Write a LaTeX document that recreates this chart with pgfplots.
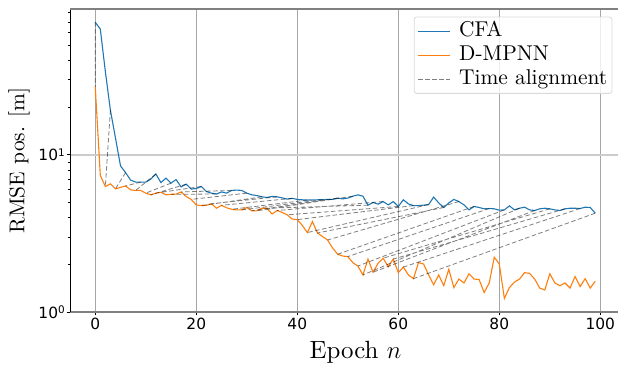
\documentclass[border=0pt]{standalone}
\usepackage{fontspec}
\setmainfont{lmroman10-regular.otf}
\usepackage{pgfplots}
\pgfplotsset{compat=1.18}
\usepackage{pgfplotstable}
\newfontfamily\dejavu{DejaVu Sans}
\definecolor{cfa}{HTML}{1F77B4}
\definecolor{dmpnn}{HTML}{FF7F0E}
\newcommand{\tp}[1]{10\raisebox{4.5bp}{\fontsize{10.5}{10.5}\selectfont #1}}

\pgfplotstableread{
n v
0 69.6
1 63
2 33.8
3 19.2
4 12.8
5 8.5
6 7.7
7 6.9
8 6.7
9 6.7
10 6.7
11 7.0
12 7.55
13 6.65
14 7.1
15 6.6
16 6.95
17 6.25
18 6.5
19 6.05
20 6.1
21 6.28
22 5.84
23 5.7
24 5.63
25 5.8
26 5.7
27 5.93
28 5.96
29 5.93
30 5.7
31 5.56
32 5.5
33 5.4
34 5.35
35 5.43
36 5.4
37 5.32
38 5.22
39 5.28
40 5.2
41 5.17
42 5.15
43 5.16
44 5.17
45 5.18
46 5.2
47 5.2
48 5.3
49 5.24
50 5.3
51 5.45
52 5.56
53 5.45
54 4.78
55 4.97
56 4.85
57 5.04
58 4.8
59 5.04
60 4.69
61 5.17
62 4.87
63 4.75
64 4.75
65 4.78
66 4.82
67 5.38
68 4.94
69 4.62
70 4.94
71 5.2
72 5.04
73 4.8
74 4.46
75 4.69
76 4.62
77 4.53
78 4.55
79 4.53
80 4.44
81 4.46
82 4.73
83 4.46
84 4.57
85 4.64
86 4.46
87 4.42
88 4.53
89 4.57
90 4.53
91 4.46
92 4.42
93 4.53
94 4.57
95 4.57
96 4.55
97 4.64
98 4.62
99 4.25
}\cfatable

\pgfplotstableread{
n v
0 27
1 7.4
2 6.28
3 6.53
4 6.07
5 6.2
6 6.33
7 5.98
8 5.93
9 5.93
10 5.7
11 5.56
12 5.7
13 5.77
14 5.56
15 5.6
16 5.62
17 5.8
18 5.42
19 5.2
20 4.8
21 4.75
22 4.77
23 4.88
24 4.57
25 4.77
26 4.6
27 4.5
28 4.46
29 4.46
30 4.62
31 4.4
32 4.4
33 4.57
34 4.57
35 4.2
36 4.42
37 4.3
38 4.15
39 3.9
40 3.87
41 3.55
42 3.2
43 3.76
44 3.18
45 3.02
46 2.87
47 2.55
48 2.33
49 2.27
50 2.25
51 2.06
52 1.96
53 1.72
54 2.17
55 1.79
56 2.04
57 2.2
58 1.94
59 2.17
60 1.78
61 1.93
62 1.72
63 1.63
64 2.06
65 2.02
66 1.72
67 1.49
68 1.72
69 1.47
70 1.87
71 1.43
72 1.62
73 1.53
74 1.75
75 1.62
76 1.61
77 1.33
78 1.53
79 2.23
80 2.02
81 1.22
82 1.43
83 1.55
84 1.62
85 1.78
86 1.76
87 1.62
88 1.42
89 1.38
90 1.75
91 1.53
92 1.47
93 1.53
94 1.42
95 1.68
96 1.45
97 1.63
98 1.42
99 1.57
}\dmpnntable

\begin{document}
\begin{tikzpicture}
\begin{axis}[
  name=ax,
  scale only axis, width=548bp, height=303bp,
  xmin=-5, xmax=103.5, ymin=1, ymax=84.5, ymode=log,
  clip=false,
  axis x line*=bottom, axis y line*=left,
  x axis line style={-, draw=gray, line width=1.6bp},
  y axis line style={-, draw=black, line width=0.8bp},
  xtick={0,20,40,60,80,100}, xticklabels={0,20,40,60,80,100},
  ytick={1,10}, yticklabels={\tp{0},\tp{1}},
  minor ytick={2,3,4,5,6,7,8,9,20,30,40,50,60,70,80},
  tick align=outside, major tick length=3.5bp, minor tick length=2bp,
  every tick/.style={black, line width=0.6bp},
  xticklabel style={font=\dejavu\fontsize{15.5}{16}\selectfont, inner sep=2bp},
  yticklabel style={font=\dejavu\fontsize{15.5}{16}\selectfont, inner sep=1.5bp},
  xmajorgrids, ymajorgrids,
  x grid style={color=black!35, line width=0.8bp},
  y grid style={color=black!20, line width=1.6bp},
  xlabel={Epoch $n$}, ylabel={RMSE pos. [m]},
  every axis x label/.style={at={(axis description cs:0.521,-0.132)}, anchor=center, font=\fontsize{25}{25}\selectfont},
  every axis y label/.style={at={(axis description cs:-0.093,0.5)}, rotate=90, anchor=center, font=\fontsize{21.5}{21.5}\selectfont},
  legend cell align=left,
  legend image code/.code={\draw[#1, line width=1.2bp] (0bp,0bp) -- (32bp,0bp);},
  legend style={name=leg, at={(1,1)}, anchor=north east, xshift=-6bp, yshift=-8bp,
    draw=none, fill=white, fill opacity=0.8, text opacity=1, rounded corners=2.5bp,
    font=\fontsize{21.5}{23}\selectfont, inner sep=3bp, row sep=2bp,
    nodes={inner sep=1.5bp, text height=14.5bp, text depth=4.5bp},
    /tikz/every odd column/.append style={column sep=7bp}},
]
\addplot[draw=cfa, line width=1.1bp] table[x=n, y=v] {\cfatable};
\addlegendentry{CFA}
\addplot[draw=dmpnn, line width=1.1bp] table[x=n, y=v] {\dmpnntable};
\addlegendentry{D-MPNN}
\addplot[draw=black, draw opacity=0.5, line width=0.8bp, dash pattern=on 4.5bp off 2.5bp, unbounded coords=jump] coordinates {
(0,69.6) (0,27) (nan,nan)
(3,19.2) (2,6.28) (nan,nan)
(6,7.7) (4,6.07) (nan,nan)
(9,6.7) (6,6.33) (nan,nan)
(12,7.55) (8,5.93) (nan,nan)
(15,6.6) (10,5.7) (nan,nan)
(18,6.5) (11,5.56) (nan,nan)
(21,6.28) (13,5.77) (nan,nan)
(24,5.63) (15,5.6) (nan,nan)
(27,5.93) (17,5.8) (nan,nan)
(30,5.7) (19,5.2) (nan,nan)
(33,5.4) (21,4.75) (nan,nan)
(36,5.4) (23,4.88) (nan,nan)
(39,5.28) (25,4.77) (nan,nan)
(42,5.15) (27,4.5) (nan,nan)
(45,5.18) (29,4.46) (nan,nan)
(48,5.3) (31,4.4) (nan,nan)
(51,5.45) (32,4.4) (nan,nan)
(54,4.78) (34,4.57) (nan,nan)
(57,5.04) (36,4.42) (nan,nan)
(60,4.69) (38,4.15) (nan,nan)
(63,4.75) (40,3.87) (nan,nan)
(66,4.82) (42,3.2) (nan,nan)
(69,4.62) (44,3.18) (nan,nan)
(72,5.04) (46,2.87) (nan,nan)
(75,4.69) (48,2.33) (nan,nan)
(78,4.55) (50,2.25) (nan,nan)
(81,4.46) (52,1.96) (nan,nan)
(84,4.57) (53,1.72) (nan,nan)
(87,4.42) (55,1.79) (nan,nan)
(90,4.53) (57,2.2) (nan,nan)
(93,4.53) (59,2.17) (nan,nan)
(96,4.55) (61,1.93) (nan,nan)
(99,4.25) (63,1.63)
};
\addlegendentry{Time alignment}
\draw[gray, line width=1.6bp] (rel axis cs:0,1) -- (rel axis cs:1,1);
\end{axis}
\draw[black!15, line width=0.8bp, rounded corners=2.5bp] (leg.south west) rectangle (leg.north east);
\pgfresetboundingbox
\path ([xshift=-70bp,yshift=-55bp]ax.south west) rectangle ([yshift=9bp]ax.north east);
\end{tikzpicture}
\end{document}
